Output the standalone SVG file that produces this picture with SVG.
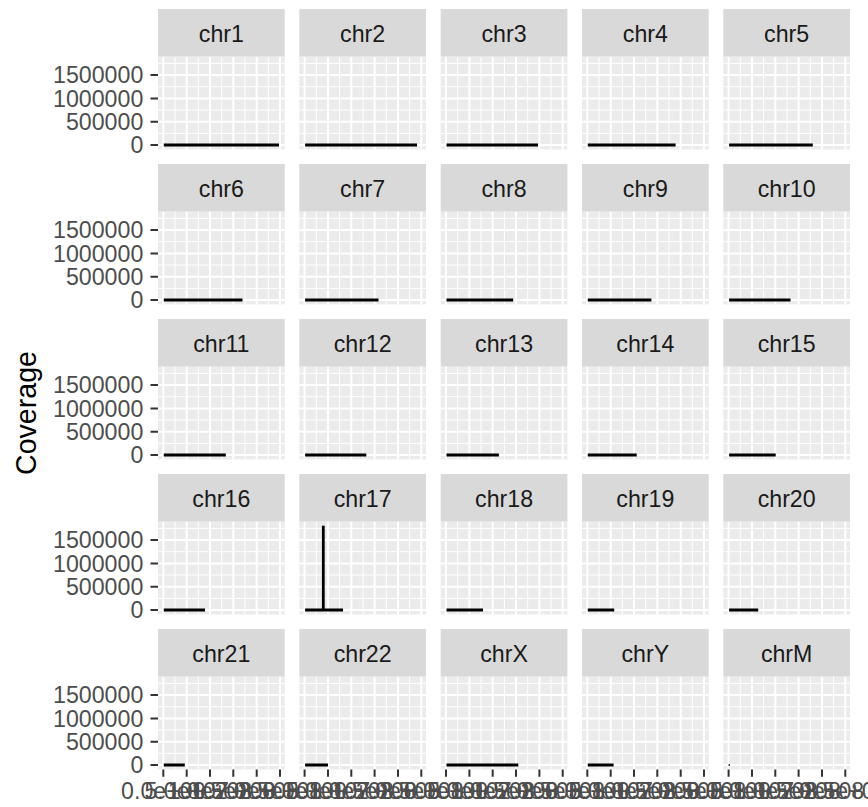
<svg xmlns="http://www.w3.org/2000/svg" xmlns:xlink="http://www.w3.org/1999/xlink" width="868" height="807" viewBox="0 0 868 807">
<style>
.strip{fill:#D9D9D9}
.st{font-family:"Liberation Sans",Arial,sans-serif;font-size:23.2px;fill:#1A1A1A;text-anchor:middle}
.ax{font-family:"Liberation Sans",Arial,sans-serif;font-size:23.2px;fill:#4D4D4D}
.yl{text-anchor:end}
.xl{text-anchor:middle}
.tk{stroke:#333333;stroke-width:2;fill:none}
.mn{stroke:#FFFFFF;stroke-width:1;fill:none}
.mj{stroke:#FFFFFF;stroke-width:2;fill:none}
.dl{stroke:#000000;stroke-width:2.8;fill:none;stroke-linecap:butt}
.ttl{font-family:"Liberation Sans",Arial,sans-serif;font-size:28.6px;fill:#000000;text-anchor:middle}
</style>
<defs>
<g id="pg">
<rect x="0" y="0" width="126.7" height="92.7" fill="#EBEBEB"/>
<path class="mn" d="M0 6.7H126.7M0 30H126.7M0 53.3H126.7M0 76.7H126.7M17 0V92.7M40.3 0V92.7M63.7 0V92.7M87 0V92.7M110.3 0V92.7"/>
<path class="mj" d="M0 18.3H126.7M0 41.7H126.7M0 65H126.7M0 88.3H126.7M5.3 0V92.7M28.7 0V92.7M52 0V92.7M75.3 0V92.7M98.7 0V92.7M122 0V92.7"/>
</g>
<g id="strip"><rect class="strip" x="0" y="0" width="126.7" height="47.7"/></g>
</defs>
<rect x="0" y="0" width="868" height="807" fill="#FFFFFF"/>

<g id="panels">
<g id="p-chr1"><use xlink:href="#strip" x="158" y="9"/><text class="st" x="221.35" y="41.7">chr1</text><use xlink:href="#pg" x="158" y="56.7"/></g>
<g id="p-chr2"><use xlink:href="#strip" x="299.3" y="9"/><text class="st" x="362.65" y="41.7">chr2</text><use xlink:href="#pg" x="299.3" y="56.7"/></g>
<g id="p-chr3"><use xlink:href="#strip" x="440.7" y="9"/><text class="st" x="504.05" y="41.7">chr3</text><use xlink:href="#pg" x="440.7" y="56.7"/></g>
<g id="p-chr4"><use xlink:href="#strip" x="582" y="9"/><text class="st" x="645.35" y="41.7">chr4</text><use xlink:href="#pg" x="582" y="56.7"/></g>
<g id="p-chr5"><use xlink:href="#strip" x="723.3" y="9"/><text class="st" x="786.65" y="41.7">chr5</text><use xlink:href="#pg" x="723.3" y="56.7"/></g>

<g id="p-chr6"><use xlink:href="#strip" x="158" y="164"/><text class="st" x="221.35" y="196.7">chr6</text><use xlink:href="#pg" x="158" y="211.7"/></g>
<g id="p-chr7"><use xlink:href="#strip" x="299.3" y="164"/><text class="st" x="362.65" y="196.7">chr7</text><use xlink:href="#pg" x="299.3" y="211.7"/></g>
<g id="p-chr8"><use xlink:href="#strip" x="440.7" y="164"/><text class="st" x="504.05" y="196.7">chr8</text><use xlink:href="#pg" x="440.7" y="211.7"/></g>
<g id="p-chr9"><use xlink:href="#strip" x="582" y="164"/><text class="st" x="645.35" y="196.7">chr9</text><use xlink:href="#pg" x="582" y="211.7"/></g>
<g id="p-chr10"><use xlink:href="#strip" x="723.3" y="164"/><text class="st" x="786.65" y="196.7">chr10</text><use xlink:href="#pg" x="723.3" y="211.7"/></g>

<g id="p-chr11"><use xlink:href="#strip" x="158" y="319"/><text class="st" x="221.35" y="351.7">chr11</text><use xlink:href="#pg" x="158" y="366.7"/></g>
<g id="p-chr12"><use xlink:href="#strip" x="299.3" y="319"/><text class="st" x="362.65" y="351.7">chr12</text><use xlink:href="#pg" x="299.3" y="366.7"/></g>
<g id="p-chr13"><use xlink:href="#strip" x="440.7" y="319"/><text class="st" x="504.05" y="351.7">chr13</text><use xlink:href="#pg" x="440.7" y="366.7"/></g>
<g id="p-chr14"><use xlink:href="#strip" x="582" y="319"/><text class="st" x="645.35" y="351.7">chr14</text><use xlink:href="#pg" x="582" y="366.7"/></g>
<g id="p-chr15"><use xlink:href="#strip" x="723.3" y="319"/><text class="st" x="786.65" y="351.7">chr15</text><use xlink:href="#pg" x="723.3" y="366.7"/></g>

<g id="p-chr16"><use xlink:href="#strip" x="158" y="474"/><text class="st" x="221.35" y="506.7">chr16</text><use xlink:href="#pg" x="158" y="521.7"/></g>
<g id="p-chr17"><use xlink:href="#strip" x="299.3" y="474"/><text class="st" x="362.65" y="506.7">chr17</text><use xlink:href="#pg" x="299.3" y="521.7"/></g>
<g id="p-chr18"><use xlink:href="#strip" x="440.7" y="474"/><text class="st" x="504.05" y="506.7">chr18</text><use xlink:href="#pg" x="440.7" y="521.7"/></g>
<g id="p-chr19"><use xlink:href="#strip" x="582" y="474"/><text class="st" x="645.35" y="506.7">chr19</text><use xlink:href="#pg" x="582" y="521.7"/></g>
<g id="p-chr20"><use xlink:href="#strip" x="723.3" y="474"/><text class="st" x="786.65" y="506.7">chr20</text><use xlink:href="#pg" x="723.3" y="521.7"/></g>

<g id="p-chr21"><use xlink:href="#strip" x="158" y="629"/><text class="st" x="221.35" y="661.7">chr21</text><use xlink:href="#pg" x="158" y="676.7"/></g>
<g id="p-chr22"><use xlink:href="#strip" x="299.3" y="629"/><text class="st" x="362.65" y="661.7">chr22</text><use xlink:href="#pg" x="299.3" y="676.7"/></g>
<g id="p-chrX"><use xlink:href="#strip" x="440.7" y="629"/><text class="st" x="504.05" y="661.7">chrX</text><use xlink:href="#pg" x="440.7" y="676.7"/></g>
<g id="p-chrY"><use xlink:href="#strip" x="582" y="629"/><text class="st" x="645.35" y="661.7">chrY</text><use xlink:href="#pg" x="582" y="676.7"/></g>
<g id="p-chrM"><use xlink:href="#strip" x="723.3" y="629"/><text class="st" x="786.65" y="661.7">chrM</text><use xlink:href="#pg" x="723.3" y="676.7"/></g>
</g>

<g id="data">
<path class="dl" d="M163.8 145H279M305.1 145H417M446.5 145H538M587.8 145H675.6M729.1 145H812.8"/>
<path class="dl" d="M163.8 300H242.5M305.1 300H378.5M446.5 300H513.2M587.8 300H651.4M729.1 300H790.5"/>
<path class="dl" d="M163.8 455H225.8M305.1 455H366.3M446.5 455H498.9M587.8 455H636.7M729.1 455H775.7"/>
<path class="dl" d="M163.8 610H205M305.1 610H343M446.5 610H483M587.8 610H614.2M729.1 610H758.2"/>
<path class="dl" d="M323.3 610V525.7"/>
<path class="dl" d="M163.8 765H184.8M305.1 765H328M446.5 765H518.3M587.8 765H613.6"/>
<path d="M728.6 765H730" stroke="#000000" stroke-width="1.5" fill="none"/>
</g>

<g id="y-axes">
<path class="tk" d="M150.5 75H158M150.5 98.4H158M150.5 121.7H158M150.5 145H158M150.5 230H158M150.5 253.4H158M150.5 276.7H158M150.5 300H158M150.5 385H158M150.5 408.4H158M150.5 431.7H158M150.5 455H158M150.5 540H158M150.5 563.4H158M150.5 586.7H158M150.5 610H158M150.5 695H158M150.5 718.4H158M150.5 741.7H158M150.5 765H158"/>
<g class="ax yl">
<text x="143.3" y="83.4">1500000</text><text x="143.3" y="106.8">1000000</text><text x="143.3" y="130.1">500000</text><text x="143.3" y="153.4">0</text>
<text x="143.3" y="238.4">1500000</text><text x="143.3" y="261.8">1000000</text><text x="143.3" y="285.1">500000</text><text x="143.3" y="308.4">0</text>
<text x="143.3" y="393.4">1500000</text><text x="143.3" y="416.8">1000000</text><text x="143.3" y="440.1">500000</text><text x="143.3" y="463.4">0</text>
<text x="143.3" y="548.4">1500000</text><text x="143.3" y="571.8">1000000</text><text x="143.3" y="595.1">500000</text><text x="143.3" y="618.4">0</text>
<text x="143.3" y="703.4">1500000</text><text x="143.3" y="726.8">1000000</text><text x="143.3" y="750.1">500000</text><text x="143.3" y="773.4">0</text>
</g>
</g>

<g id="x-axes">
<path class="tk" d="M163.3 769.4V776.7M186.7 769.4V776.7M210 769.4V776.7M233.3 769.4V776.7M256.7 769.4V776.7M280 769.4V776.7M304.6 769.4V776.7M328 769.4V776.7M351.3 769.4V776.7M374.6 769.4V776.7M398 769.4V776.7M421.3 769.4V776.7M446 769.4V776.7M469.4 769.4V776.7M492.7 769.4V776.7M516 769.4V776.7M539.4 769.4V776.7M562.7 769.4V776.7M587.3 769.4V776.7M610.7 769.4V776.7M634 769.4V776.7M657.3 769.4V776.7M680.7 769.4V776.7M704 769.4V776.7M728.6 769.4V776.7M752 769.4V776.7M775.3 769.4V776.7M798.6 769.4V776.7M822 769.4V776.7M845.3 769.4V776.7"/>
<g class="ax xl">
<text x="163.3" y="798.5">0.0e+00</text><text x="186.7" y="798.5">5.0e+07</text><text x="210" y="798.5">1.0e+08</text><text x="233.3" y="798.5">1.5e+08</text><text x="256.7" y="798.5">2.0e+08</text><text x="280" y="798.5">2.5e+08</text>
<text x="304.6" y="798.5">0.0e+00</text><text x="328" y="798.5">5.0e+07</text><text x="351.3" y="798.5">1.0e+08</text><text x="374.6" y="798.5">1.5e+08</text><text x="398" y="798.5">2.0e+08</text><text x="421.3" y="798.5">2.5e+08</text>
<text x="446" y="798.5">0.0e+00</text><text x="469.4" y="798.5">5.0e+07</text><text x="492.7" y="798.5">1.0e+08</text><text x="516" y="798.5">1.5e+08</text><text x="539.4" y="798.5">2.0e+08</text><text x="562.7" y="798.5">2.5e+08</text>
<text x="587.3" y="798.5">0.0e+00</text><text x="610.7" y="798.5">5.0e+07</text><text x="634" y="798.5">1.0e+08</text><text x="657.3" y="798.5">1.5e+08</text><text x="680.7" y="798.5">2.0e+08</text><text x="704" y="798.5">2.5e+08</text>
<text x="728.6" y="798.5">0.0e+00</text><text x="752" y="798.5">5.0e+07</text><text x="775.3" y="798.5">1.0e+08</text><text x="798.6" y="798.5">1.5e+08</text><text x="822" y="798.5">2.0e+08</text><text x="845.3" y="798.5">2.5e+08</text>
</g>
</g>

<g id="axis-title">
<text class="ttl" transform="translate(35.5 413) rotate(-90)">Coverage</text>
</g>
</svg>
